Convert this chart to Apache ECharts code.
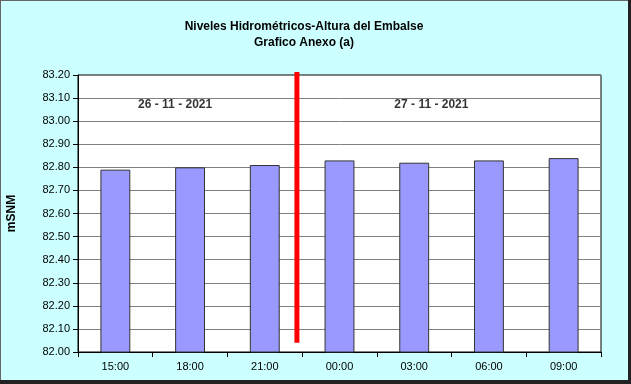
<!DOCTYPE html>
<html>
<head>
<meta charset="utf-8">
<script src="https://cdn.jsdelivr.net/npm/echarts@6/dist/echarts.min.js"></script>
<style>
html,body{margin:0;padding:0;background:#ccffff;}
#c{width:631px;height:384px;}
</style>
</head>
<body>
<div id="c"></div>
<script>
const categories = ['15:00','18:00','21:00','00:00','03:00','06:00','09:00'];
const levels = [82.79, 82.80, 82.81, 82.83, 82.82, 82.83, 82.84];
const yTicks = ['82.00','82.10','82.20','82.30','82.40','82.50','82.60','82.70','82.80','82.90','83.00','83.10','83.20'];
const dayLabels = ['26 - 11 - 2021', '27 - 11 - 2021'];
const dayLabelPos = [[1.30, 83.072], [4.73, 83.072]];
const dividerLine = [[2.93, 82.04], [2.93, 83.213]];

const chart = echarts.init(document.getElementById('c'), null, {renderer:'canvas'});
const FONT = 'Liberation Sans, Arial, sans-serif';
chart.setOption({
  backgroundColor: '#ccffff',
  animation: false,
  title: {
    text: 'Niveles Hidrométricos-Altura del Embalse\nGrafico Anexo (a)',
    left: 299, top: 14, textAlign: 'center',
    textStyle: {fontFamily: FONT, fontSize: 12, fontWeight: 'bold', color: '#000', lineHeight: 16}
  },
  grid: {left: 78, top: 75, width: 523, height: 277, show: true, backgroundColor: '#fff', borderColor: '#000', borderWidth: 1,
    containLabel: false, outerBoundsMode: 'none'},
  xAxis: [{
    type: 'category', data: categories, boundaryGap: true,
    axisLine: {lineStyle: {color: '#000'}},
    axisTick: {show: true, length: 5, lineStyle: {color: '#000'}},
    axisLabel: {fontFamily: FONT, fontSize: 11, color: '#000', margin: 9}
  }, {
    type: 'value', min: 0, max: 7, show: false
  }],
  yAxis: {
    type: 'value', min: 82, max: 83.2, interval: 0.1,
    name: 'mSNM', nameLocation: 'middle', nameGap: 60, nameRotate: 90,
    nameTextStyle: {fontFamily: FONT, fontSize: 12, fontWeight: 'bold', color: '#000'},
    axisLine: {show: true, lineStyle: {color: '#000'}},
    axisTick: {show: true, length: 5, lineStyle: {color: '#000'}},
    axisLabel: {fontFamily: FONT, fontSize: 11, color: '#000', margin: 8,
      formatter: (v) => { const i = Math.round((v - 82) * 10); return yTicks[i] !== undefined ? yTicks[i] : v.toFixed(2); }},
    splitLine: {show: true, lineStyle: {color: '#808080', width: 1}}
  },
  series: [{
    type: 'bar', data: levels, barWidth: '40%',
    itemStyle: {color: '#9999ff', borderColor: '#333', borderWidth: 1}
  }, {
    type: 'line', xAxisIndex: 1, data: dividerLine, symbol: 'none', clip: false,
    lineStyle: {color: '#ff0000', width: 5}, z: 5
  }, {
    type: 'scatter', xAxisIndex: 1, symbolSize: 0, silent: true,
    data: dayLabelPos.map((p, i) => ({value: p, name: dayLabels[i]})),
    label: {show: true, position: 'inside', formatter: (p) => p.name,
      fontFamily: FONT, fontSize: 12, fontWeight: 'bold', color: '#000', textBorderWidth: 0}
  }],
  graphic: [
    {type: 'rect', shape: {x: 0, y: 0, width: 631, height: 1}, style: {fill: '#666'}},
    {type: 'rect', shape: {x: 0, y: 0, width: 1, height: 384}, style: {fill: '#666'}},
    {type: 'rect', shape: {x: 628, y: 0, width: 3, height: 384}, style: {fill: '#222'}},
    {type: 'rect', shape: {x: 0, y: 380, width: 631, height: 4}, style: {fill: '#222'}}
  ]
});
</script>
</body>
</html>
